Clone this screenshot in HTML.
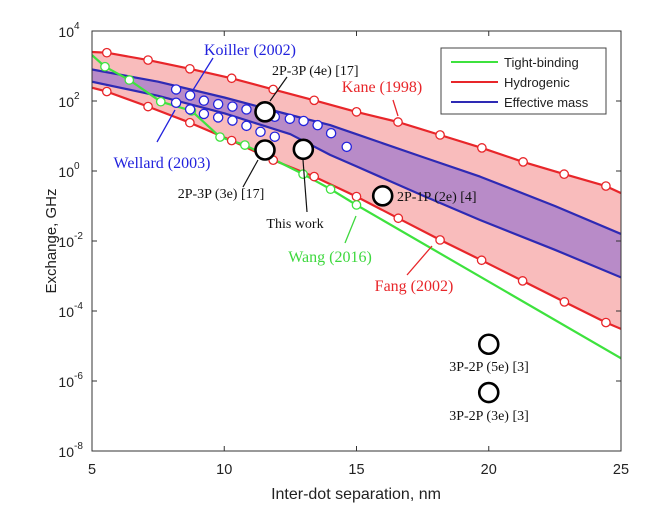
<!DOCTYPE html>
<html><head><meta charset="utf-8"><style>
body{margin:0;background:#fff;}
svg{display:block;font-family:"Liberation Sans",sans-serif;}
</style></head><body>
<svg id="chart" width="672" height="532" viewBox="0 0 672 532" xmlns="http://www.w3.org/2000/svg"></svg>
<script>
// ---- data (x: nm, y: log10 GHz) ----
const hydUpperX=[5,5.56,7.12,8.7,10.28,11.85,13.4,15.0,16.57,18.16,19.74,21.3,22.85,24.43,25];
const hydUpperY=[3.4,3.38,3.17,2.92,2.65,2.33,2.02,1.69,1.40,1.03,0.66,0.26,-0.09,-0.43,-0.63];
const hydUpperMarks=[1,2,3,4,5,6,7,8,9,10,11,12,13];
const hydLowerX=[5,5.56,7.12,8.7,10.28,11.85,13.4,15.0,16.58,18.16,19.73,21.28,22.86,24.43,25];
const hydLowerY=[2.38,2.27,1.84,1.38,0.87,0.31,-0.16,-0.73,-1.35,-1.97,-2.55,-3.14,-3.74,-4.33,-4.51];
const hydLowerMarks=[1,2,3,4,5,6,7,8,9,10,11,12,13];
const tbX=[5,5.49,6.41,7.6,8.76,9.84,10.78,12.98,14.02,15.0,25];
const tbY=[3.31,2.98,2.6,1.98,1.72,0.97,0.74,-0.09,-0.52,-0.97,-5.35];
const tbMarks=[1,2,3,4,5,6,7,8,9];
const emUpperX=[5,7.5,10,12.5,14,15,17.5,19.67,22.5,25];
const emUpperY=[2.9,2.55,2.1,1.6,1.31,1.05,0.4,-0.16,-1.0,-1.8];
const emLowerX=[5,7.5,10,12.5,14,15,17.5,19.67,22.5,25];
const emLowerY=[2.55,2.15,1.65,1.05,0.46,0.13,-0.7,-1.4,-2.25,-3.04];
const koillerX=[8.18,8.71,9.23,9.77,10.31,10.84,11.91,12.48,13.0,13.53,14.04,14.63,8.18,8.71,9.23,9.77,10.31,10.84,11.37,11.91];
const koillerY=[2.33,2.16,2.01,1.91,1.84,1.76,1.55,1.49,1.43,1.31,1.08,0.69,1.95,1.76,1.63,1.53,1.44,1.29,1.12,0.98];
const expX=[11.54,11.54,12.99,15.99,20.0,20.0];
const expY=[1.69,0.6,0.62,-0.71,-4.95,-6.33];
const xTicks=[5,10,15,20,25];
const yTicks=[4,2,0,-2,-4,-6,-8];

const X0=92,X1=621,Y0=31,Y1=451;
const sx=v=>X0+(v-5)/20*(X1-X0);
const sy=v=>Y1-(v+8)/12*(Y1-Y0);
const NS="http://www.w3.org/2000/svg";
const svg=document.getElementById('chart');
function mk(tag,attrs,parent){const e=document.createElementNS(NS,tag);for(const k in attrs)e.setAttribute(k,attrs[k]);(parent||svg).appendChild(e);return e;}
const defs=mk('defs',{});
const cp=mk('clipPath',{id:'clip'},defs);mk('rect',{x:X0,y:Y0,width:X1-X0,height:Y1-Y0},cp);
const g=mk('g',{'clip-path':'url(#clip)'});


const pts=(xs,ys)=>xs.map((x,i)=>sx(x).toFixed(1)+','+sy(ys[i]).toFixed(1));
function band(xa,ya,xb,yb,fill,name){
  const p=pts(xa,ya).concat(pts(xb,yb).reverse());
  const e=mk('polygon',{points:p.join(' '),fill:fill,stroke:'none'},g);
  
  
}
band(hydUpperX,hydUpperY,hydLowerX,hydLowerY,'#f9bcbc','hydrogenic-band');
band(emUpperX,emUpperY,emLowerX,emLowerY,'#b88bc8','effective-mass-band');
function line(xs,ys,col,name){
  const e=mk('polyline',{points:pts(xs,ys).join(' '),fill:'none',stroke:col,'stroke-width':2.2,'stroke-linejoin':'round'},g);
  
  
}
line(emUpperX,emUpperY,'#2e2ab4','effective-mass-upper-line');
line(emLowerX,emLowerY,'#2e2ab4','effective-mass-lower-line');
line(hydUpperX,hydUpperY,'#e8262a','hydrogenic-upper-line');
line(hydLowerX,hydLowerY,'#e8262a','hydrogenic-lower-line');
line(tbX,tbY,'#3ee23e','tight-binding-line');
function marks(xs,ys,idx,col,name){
  idx.forEach(i=>{
    const c=mk('circle',{cx:sx(xs[i]),cy:sy(ys[i]),r:4.2,fill:'#fff',stroke:col,'stroke-width':1.3},g);
    
    
  });
}
marks(hydUpperX,hydUpperY,hydUpperMarks,'#e8262a','kane-point');
marks(hydLowerX,hydLowerY,hydLowerMarks,'#e8262a','fang-point');
marks(tbX,tbY,tbMarks,'#3ee23e','wang-point');
koillerX.forEach((x,i)=>{
  const c=mk('circle',{cx:sx(x),cy:sy(koillerY[i]),r:4.6,fill:'#fff',stroke:'#2222dd','stroke-width':1.3},g);
  
  
});
expX.forEach((x,i)=>{
  const c=mk('circle',{cx:sx(x),cy:sy(expY[i]),r:9.5,fill:'#fff',stroke:'#000','stroke-width':2.6});
  
  
});
const box=mk('rect',{x:X0,y:Y0,width:X1-X0,height:Y1-Y0,fill:'none',stroke:'#333','stroke-width':1});


xTicks.forEach(t=>{
  mk('line',{x1:sx(t),x2:sx(t),y1:Y1,y2:Y1-5,stroke:'#333'});
  mk('line',{x1:sx(t),x2:sx(t),y1:Y0,y2:Y0+5,stroke:'#333'});
  const tx=mk('text',{x:sx(t),y:Y1+23,'text-anchor':'middle','font-size':14.5,fill:'#222'});
  tx.textContent=t;
  
  
});
yTicks.forEach(t=>{
  mk('line',{x1:X0,x2:X0+5,y1:sy(t),y2:sy(t),stroke:'#333'});
  mk('line',{x1:X1,x2:X1-5,y1:sy(t),y2:sy(t),stroke:'#333'});
  const tx=mk('text',{x:X0-18,y:sy(t)+6,'text-anchor':'end','font-size':14,fill:'#222'});
  tx.textContent='10';
  
  
  const sp=mk('text',{x:X0-18,y:sy(t)-2,'text-anchor':'start','font-size':10,fill:'#222'});
  sp.textContent=String(t);
  
  
});
</script>
<script>
const S=document.getElementById('chart');
S.insertAdjacentHTML('beforeend',`
<text x="356" y="499" text-anchor="middle" font-size="16" fill="#222">Inter-dot separation, nm</text>
<text transform="translate(56,241) rotate(-90)" text-anchor="middle" font-size="15" fill="#222">Exchange, GHz</text>
<g>
<rect x="441" y="48" width="165" height="66" fill="#fff" stroke="#444" stroke-width="1"/>
<line x1="451" x2="498" y1="62" y2="62" stroke="#3ee23e" stroke-width="2"/>
<text x="504" y="67" font-size="13" fill="#222">Tight-binding</text>
<line x1="451" x2="498" y1="82" y2="82" stroke="#e8262a" stroke-width="2"/>
<text x="504" y="87" font-size="13" fill="#222">Hydrogenic</text>
<line x1="451" x2="498" y1="102" y2="102" stroke="#2e2ab4" stroke-width="2"/>
<text x="504" y="107" font-size="13" fill="#222">Effective mass</text>
</g>
<g font-family="Liberation Serif, serif">
<text x="250" y="55" text-anchor="middle" font-size="16" fill="#2222dd">Koiller (2002)</text>
<line x1="213" y1="58" x2="193" y2="90" stroke="#2222dd" stroke-width="1.3"/>
<text x="272" y="75" font-size="14" fill="#111">2P-3P (4e) [17]</text>
<line x1="287" y1="77" x2="270" y2="101" stroke="#111" stroke-width="1.2"/>
<text x="382" y="92" text-anchor="middle" font-size="16" fill="#e8262a">Kane (1998)</text>
<line x1="393" y1="100" x2="398" y2="116" stroke="#e8262a" stroke-width="1.3"/>
<text x="162" y="168" text-anchor="middle" font-size="16" fill="#2222dd">Wellard (2003)</text>
<line x1="157" y1="142" x2="175" y2="110" stroke="#2222dd" stroke-width="1.3"/>
<text x="221" y="198" text-anchor="middle" font-size="14" fill="#111">2P-3P (3e) [17]</text>
<line x1="243" y1="187" x2="258" y2="160" stroke="#111" stroke-width="1.2"/>
<text x="295" y="228" text-anchor="middle" font-size="14" fill="#111">This work</text>
<line x1="307" y1="212" x2="303" y2="160" stroke="#111" stroke-width="1.2"/>
<text x="330" y="262" text-anchor="middle" font-size="16" fill="#3ed83e">Wang (2016)</text>
<line x1="345" y1="243" x2="356" y2="216" stroke="#3ed83e" stroke-width="1.3"/>
<text x="397" y="201" font-size="14" fill="#111">2P-1P (2e) [4]</text>
<text x="414" y="291" text-anchor="middle" font-size="16" fill="#e8262a">Fang (2002)</text>
<line x1="407" y1="275" x2="432" y2="246" stroke="#e8262a" stroke-width="1.3"/>
<text x="489" y="371" text-anchor="middle" font-size="14" fill="#111">3P-2P (5e) [3]</text>
<text x="489" y="420" text-anchor="middle" font-size="14" fill="#111">3P-2P (3e) [3]</text>
</g>`);
</script>
</body></html>
